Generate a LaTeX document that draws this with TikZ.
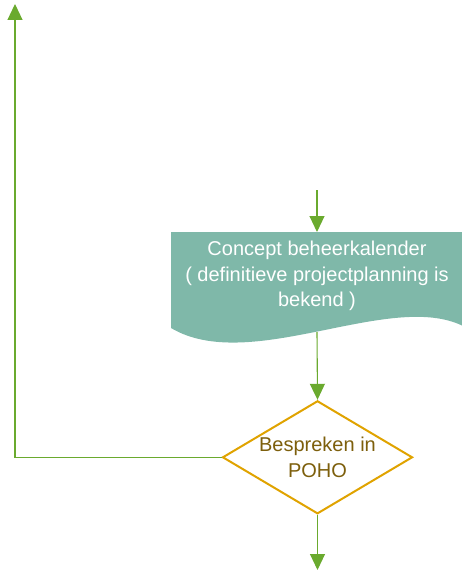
\documentclass[tikz,border=0pt]{standalone}
\usepackage{fontspec}
\setmainfont{Liberation Sans}
\usetikzlibrary{arrows.meta,shapes.geometric}

\definecolor{flowgreen}{HTML}{6AAA2E}
\definecolor{docfill}{HTML}{7FB8A9}
\definecolor{decisionline}{HTML}{E0A300}
\definecolor{decisiontext}{HTML}{7D5F0C}

\tikzset{
  x=1pt, y=1pt,
  flow/.style={draw=flowgreen, line width=1.1pt, -{Triangle[width=15pt,length=16pt]}},
  flowplain/.style={draw=flowgreen, line width=1.1pt},
  doctext/.style={text=white, align=center, inner sep=0pt,
    font=\fontsize{20}{25.5}\selectfont},
  decision/.style={diamond, draw=decisionline, line width=2pt, fill=white,
    minimum width=190pt, minimum height=113pt, inner sep=0pt},
  decisionlabel/.style={text=decisiontext, align=center, inner sep=0pt,
    font=\fontsize{20}{25.5}\selectfont},
}

\begin{document}
\begin{tikzpicture}
  \useasboundingbox (0,0) rectangle (461,-572);

  % document shape with wavy lower edge
  \fill[docfill] (171,-232) -- (463,-232) -- (463,-326)
    .. controls (390,-290) and (250,-375) .. (171,-328) -- cycle;
  \node[doctext] (concept) at (317,-276)
    {Concept beheerkalender\\( definitieve projectplanning is\\bekend )};
  \coordinate (conceptin)  at (317,-232);
  \coordinate (conceptout) at (317,-332);
  \coordinate (incoming)   at (317,-190);

  % decision
  \node[decision] (poho) at (317.5,-457.3) {};
  \node[decisionlabel] (pohotext) at (poho.center) {Bespreken in\\POHO};

  % free ends of the connectors
  \coordinate (outgoing) at (317.5,-570);
  \coordinate (loopcorner) at (15,-457.3);
  \coordinate (looptop)    at (15,-4);

  % connectors
  \draw[flow] (incoming) -- (conceptin);
  \draw[flow] (conceptout) -- (poho.north);
  \draw[flow] (poho.south) -- (outgoing);
  \draw[flow] (poho.west) -- (loopcorner) -- (looptop);
\end{tikzpicture}
\end{document}
